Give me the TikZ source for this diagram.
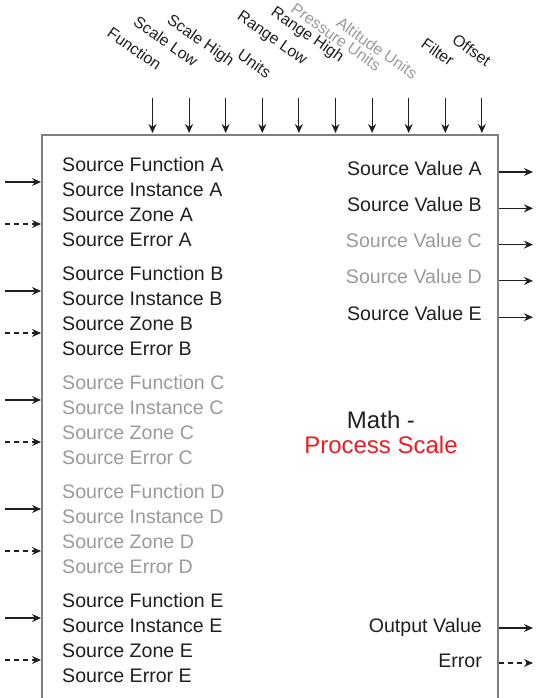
\documentclass[tikz,border=0pt]{standalone}
\usepackage{fontspec}
\setmainfont{Liberation Sans}
\usetikzlibrary{arrows.meta}
\definecolor{ink}{HTML}{231F20}
\definecolor{dim}{HTML}{9A9A9A}
\definecolor{frame}{HTML}{7F7F7F}
\definecolor{mathred}{HTML}{ED1C24}
\begin{document}
\begin{tikzpicture}[x=1pt,y=-1pt,
    lbl/.style={font=\fontsize{19.6}{22}\selectfont, inner sep=0pt},
    toplbl/.style={font=\fontsize{16}{18}\selectfont, inner sep=0pt, rotate=-35, anchor=base east},
    titlelbl/.style={font=\fontsize{24}{28}\selectfont, inner sep=0pt, anchor=base},
    sig/.style={-{Stealth[length=9pt,width=8pt]}, draw=ink, line width=1.1pt},
    errsig/.style={sig, dash pattern=on 5pt off 4pt}]
    \useasboundingbox (0,0) rectangle (535,698);
    % block outline, open at the bottom
    \draw[frame, line width=1.4pt] (42,698) -- (42,135) -- (498,135) -- (498,698);
    % parameters along the top
    \foreach \name/\col/\yend [count=\i from 0] in {Function/ink/71, Scale Low/ink/67, Scale High/ink/67,
            Units/ink/79, Range Low/ink/65, Range High/ink/63, Pressure Units/dim/72,
            Altitude Units/dim/80, Filter/ink/67, Offset/ink/67} {
        \pgfmathsetmacro\xx{152.5+36.6*\i}
        \node[toplbl, text=\col] (par\i) at (\xx+4,\yend) {\name};
        \coordinate (parTop\i) at (\xx,98);
        \coordinate (parIn\i) at (\xx,133);
        \draw[sig] (parTop\i) -- (parIn\i);
    }
    % source groups on the left
    \foreach \g/\col [count=\k from 0] in {A/ink, B/ink, C/dim, D/dim, E/ink} {
        \pgfmathsetmacro\yy{171+109*\k}
        \node[lbl, text=\col, anchor=base west] (fn\g) at (62,\yy) {Source Function \g};
        \node[lbl, text=\col, anchor=base west] (inst\g) at (62,\yy+25) {Source Instance \g};
        \node[lbl, text=\col, anchor=base west] (zone\g) at (62,\yy+50) {Source Zone \g};
        \node[lbl, text=\col, anchor=base west] (err\g) at (62,\yy+75) {Source Error \g};
        \coordinate (src\g) at (5,\yy+11);
        \coordinate (srcIn\g) at (41,\yy+11);
        \coordinate (srcErr\g) at (5,\yy+53);
        \coordinate (srcErrIn\g) at (41,\yy+53);
        \draw[sig] (src\g) -- (srcIn\g);
        \draw[errsig] (srcErr\g) -- (srcErrIn\g);
    }
    % source values on the right
    \foreach \g/\col [count=\k from 0] in {A/ink, B/ink, C/dim, D/dim, E/ink} {
        \pgfmathsetmacro\yy{175+36.3*\k}
        \node[lbl, text=\col, anchor=base east] (val\g) at (482,\yy) {Source Value \g};
        \coordinate (valOut\g) at (499,\yy-3);
        \coordinate (valEnd\g) at (533,\yy-3);
        \draw[sig] (valOut\g) -- (valEnd\g);
    }
    % block title
    \node[titlelbl, text=ink] (title) at (381,428) {Math -};
    \node[titlelbl, text=mathred] (subtitle) at (381,453) {Process Scale};
    % outputs
    \node[lbl, text=ink, anchor=base east] (outval) at (482,632) {Output Value};
    \node[lbl, text=ink, anchor=base east] (outerr) at (482,667) {Error};
    \coordinate (outvalA) at (499,628);
    \coordinate (outvalB) at (533,628);
    \coordinate (outerrA) at (499,663);
    \coordinate (outerrB) at (533,663);
    \draw[sig] (outvalA) -- (outvalB);
    \draw[errsig] (outerrA) -- (outerrB);
\end{tikzpicture}
\end{document}
